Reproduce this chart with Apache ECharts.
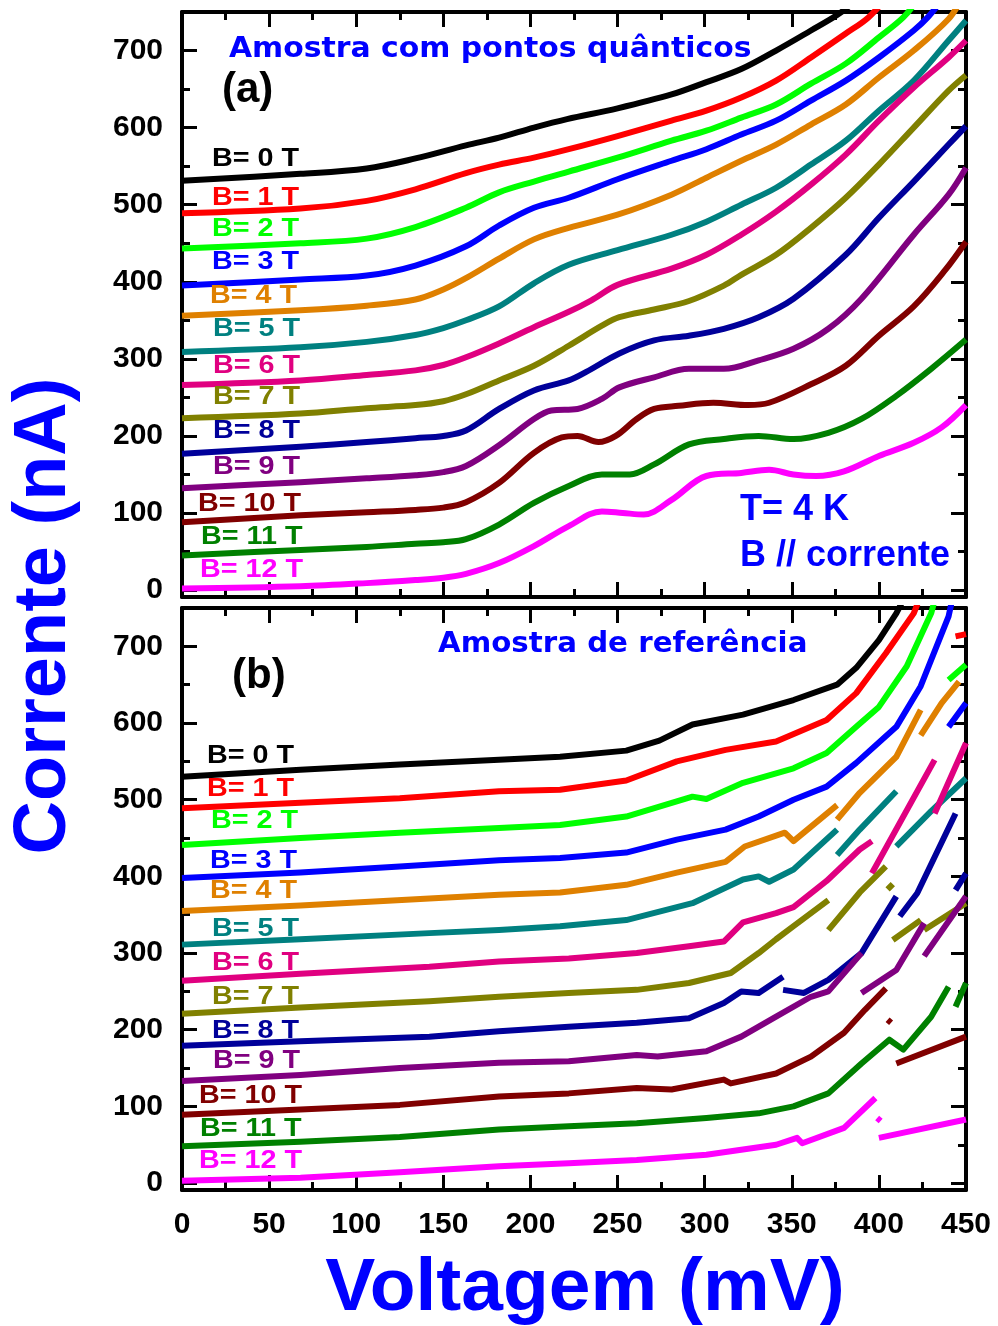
<!DOCTYPE html>
<html>
<head>
<meta charset="utf-8">
<script src="https://cdn.jsdelivr.net/npm/echarts@6/dist/echarts.min.js"></script>
<style>
  html, body { margin: 0; padding: 0; background: #ffffff; }
  #chart { width: 998px; height: 1326px; }
</style>
</head>
<body>
<div id="chart"></div>
<script>
// Magnetic field of each I-V curve (tesla)
const fields = [0, 1, 2, 3, 4, 5, 6, 7, 8, 9, 10, 11, 12];
const fieldColors = ['#000000', '#FF0000', '#00FF00', '#0000FF', '#DF8000', '#008080', '#E00080',
                     '#808000', '#00009A', '#800080', '#800000', '#008000', '#FF00FF'];

// Voltage axis ticks (mV) and current axis ticks (nA)
const voltageTicks = [0, 50, 100, 150, 200, 250, 300, 350, 400, 450];
const currentTicks = [0, 100, 200, 300, 400, 500, 600, 700];
const currentMinorTicks = [50, 150, 250, 350, 450, 550, 650];

// (a) sample with quantum dots: [voltage mV, current nA]
const qd0 = [[0,531],[68,540],[106,547],[134,560],[163,577],[182,587],[202,600],[221,611],[250,625],[281,643],[301,659],[321,676],[341,700],[361,726],[376,746],[390,770]];
const qd1 = [[0,489],[68,495],[106,505],[134,520],[163,541],[182,552],[202,561],[222,572],[250,589],[281,609],[301,622],[321,639],[341,661],[361,691],[381,722],[394,743],[405,770]];
const qd2 = [[0,443],[68,450],[106,456],[134,471],[163,496],[182,516],[202,530],[222,543],[250,561],[281,583],[301,596],[321,613],[341,630],[361,657],[381,683],[400,717],[414,743],[422,765]];
const qd3 = [[0,395],[68,403],[106,408],[134,421],[163,446],[182,473],[202,496],[222,509],[250,533],[281,557],[301,572],[321,591],[341,609],[361,635],[381,661],[400,691],[420,726],[428,743],[436,765]];
const qd4 = [[0,356],[68,363],[106,369],[134,377],[150,390],[164,406],[182,430],[202,455],[222,470],[250,487],[281,513],[301,535],[321,557],[341,578],[361,604],[381,630],[400,665],[420,700],[440,741],[447,765]];
const qd5 = [[0,309],[68,315],[106,322],[134,331],[150,340],[163,350],[182,368],[202,398],[222,422],[250,441],[281,461],[301,478],[321,500],[341,522],[361,552],[381,583],[400,622],[420,661],[440,713],[450,739]];
const qd6 = [[0,266],[68,272],[106,279],[134,285],[150,292],[163,302],[182,320],[202,341],[222,361],[235,376],[250,396],[281,417],[301,435],[321,461],[341,491],[361,526],[381,565],[400,609],[420,652],[440,691],[450,713]];
const qd7 = [[0,223],[68,229],[106,236],[134,240],[150,245],[163,254],[182,272],[202,291],[222,317],[241,343],[251,354],[271,364],[291,375],[311,395],[321,409],[341,435],[361,470],[381,509],[400,552],[420,600],[440,648],[450,668]];
const qd8 = [[0,177],[68,186],[106,192],[134,197],[150,200],[163,207],[182,235],[202,259],[222,272],[232,283],[251,307],[271,324],[291,330],[311,339],[331,354],[351,378],[381,435],[400,483],[420,530],[440,578],[450,602]];
const qd9 = [[0,132],[68,140],[106,145],[134,149],[150,153],[163,161],[182,188],[202,222],[212,233],[227,235],[241,248],[251,263],[271,276],[291,287],[311,287],[331,298],[351,313],[371,339],[390,378],[420,461],[440,513],[450,548]];
const qd10 = [[0,88],[68,97],[106,101],[134,104],[150,107],[163,114],[182,139],[202,178],[218,198],[227,200],[239,192],[249,200],[261,222],[271,235],[285,239],[305,243],[325,240],[337,243],[361,267],[381,291],[400,330],[420,368],[438,415],[450,452]];
const qd11 = [[0,45],[68,52],[106,56],[134,60],[150,62],[163,66],[182,85],[202,113],[222,135],[241,150],[257,150],[271,163],[291,189],[311,196],[331,200],[351,196],[371,204],[390,222],[410,252],[430,287],[450,325]];
const qd12 = [[0,2],[68,5],[106,9],[134,13],[150,16],[163,21],[182,35],[202,57],[222,83],[241,102],[253,100],[265,98],[281,117],[301,148],[321,152],[337,156],[351,150],[364,148],[380,154],[400,174],[420,191],[436,211],[450,240]];

// (b) reference sample: null marks a break in the recorded trace
const ref0 = [[0,530],[68,539],[125,546],[182,552],[217,556],[255,564],[274,577],[293,598],[322,611],[351,630],[376,650],[387,672],[400,708],[410,743],[415,765]];
const ref1 = [[0,489],[68,496],[125,502],[182,511],[217,513],[255,525],[284,550],[312,565],[341,576],[370,604],[387,639],[404,691],[420,743],[423,760],null,[444,713],[450,716]];
const ref2 = [[0,441],[68,450],[125,457],[182,463],[217,467],[255,478],[293,504],[301,501],[322,522],[351,541],[370,561],[387,595],[400,621],[416,674],[430,743],[432,760],null,[440,656],[450,676]];
const ref3 = [[0,398],[68,405],[125,413],[182,421],[217,424],[255,431],[284,448],[312,461],[331,478],[351,500],[370,517],[387,548],[410,595],[424,648],[440,739],[442,760],null,[440,595],[450,626]];
const ref4 = [[0,355],[68,362],[142,371],[182,376],[217,379],[255,389],[284,405],[312,419],[323,439],[346,457],[351,446],[376,493],null,[376,474],[389,509],[410,556],[424,617],null,[424,584],[436,626],[446,654]];
const ref5 = [[0,311],[68,318],[142,326],[182,330],[217,335],[255,343],[293,365],[322,396],[331,400],[337,393],[351,409],[376,461],null,[376,428],[389,461],[410,511],null,[410,439],[430,485],[450,528]];
const ref6 = [[0,264],[68,273],[142,282],[182,289],[222,293],[261,300],[291,309],[311,315],[322,340],[341,352],[351,360],[370,394],[389,435],[396,446],null,[396,404],[432,552],null,[432,482],[450,574]];
const ref7 = [[0,221],[68,229],[142,237],[182,243],[222,248],[261,252],[291,261],[315,274],[331,300],[341,318],[351,335],[371,369],null,[371,330],[389,379],[404,413],null,[405,383],[408,390],null,[408,317],[424,343],null,[426,330],[450,365]];
const ref8 = [[0,179],[68,185],[142,191],[182,198],[222,204],[261,209],[291,215],[311,235],[321,250],[331,248],[345,269],null,[345,252],[357,248],[371,265],[390,300],[410,374],null,[412,348],[422,378],[444,482],null,[444,382],[450,404]];
const ref9 = [[0,133],[68,141],[125,150],[182,157],[222,159],[261,167],[273,165],[301,172],[321,191],[341,217],[361,243],[371,250],[390,300],null,[390,248],[410,278],[426,339],null,[426,296],[450,374]];
const ref10 = [[0,89],[68,96],[125,102],[182,113],[222,117],[261,124],[281,122],[311,135],[315,130],[341,143],[361,165],[380,196],[392,226],[404,254],null,[405,213],[407,209],null,[410,156],[450,191]];
const ref11 = [[0,48],[68,54],[125,60],[182,70],[222,74],[261,78],[301,85],[331,91],[351,100],[371,117],[390,156],[406,187],[414,174],[430,217],[440,256],null,[444,230],[450,261]];
const ref12 = [[0,3],[68,7],[125,14],[182,22],[222,26],[261,30],[301,37],[341,50],[353,59],[356,52],[380,72],[398,111],null,[399,85],[401,81],null,[400,59],[450,83]];

const quantumDotCurves = [qd0, qd1, qd2, qd3, qd4, qd5, qd6, qd7, qd8, qd9, qd10, qd11, qd12];
const referenceCurves = [ref0, ref1, ref2, ref3, ref4, ref5, ref6, ref7, ref8, ref9, ref10, ref11, ref12];

// Placement of the field labels inside each panel (left x, vertical middle)
const labelPosA = [[212,159],[212,198],[212,229],[212,262],[210,296],[213,329],[213,366],[213,397],[213,431],[213,467],[198,504],[201,537],[200,570]];
const labelPosB = [[207,756],[207,789],[211,821],[210,861],[210,891],[212,929],[212,963],[212,997],[212,1031],[213,1061],[199,1096],[200,1129],[199,1161]];

const SANS = '"Liberation Sans", Arial, Helvetica, sans-serif';
const black = '#000000';
const blue = '#0000FF';

function asLineData(points) {
  return points.map(p => (p === null ? ['-', '-'] : p));
}

function xAxesFor(gridIndex, withLabels) {
  const base = {
    type: 'value', gridIndex: gridIndex, min: 0, max: 450, interval: 50,
    splitLine: { show: false },
    axisLine: { show: true, onZero: false, lineStyle: { color: black, width: 4 } },
    axisTick: { show: true, inside: true, length: 15, lineStyle: { color: black, width: 3 } },
    minorTick: { show: true, splitNumber: 2, length: 8, lineStyle: { color: black, width: 3 } }
  };
  return [
    Object.assign({}, base, {
      position: 'bottom',
      axisLabel: withLabels ? {
        show: true, color: black, fontFamily: SANS, fontWeight: 'bold', fontSize: 30, margin: 20,
        customValues: voltageTicks
      } : { show: false }
    }),
    Object.assign({}, base, { position: 'top', axisLabel: { show: false } })
  ];
}

function yAxesFor(gridIndex) {
  const base = { type: 'value', gridIndex: gridIndex, min: -9, max: 750, splitLine: { show: false } };
  const lineOn = { show: true, onZero: false, lineStyle: { color: black, width: 4 } };
  const lineOff = { show: false, onZero: false };
  const majorTick = { show: true, inside: true, length: 15, customValues: currentTicks, lineStyle: { color: black, width: 3 } };
  const minorTickStyle = { show: true, inside: true, length: 8, customValues: currentMinorTicks, lineStyle: { color: black, width: 3 } };
  return [
    Object.assign({}, base, {
      position: 'left', axisLine: lineOn, axisTick: majorTick,
      axisLabel: {
        show: true, color: black, fontFamily: SANS, fontWeight: 'bold', fontSize: 30, margin: 19,
        padding: [5, 0, 0, 0], customValues: currentTicks
      }
    }),
    Object.assign({}, base, { position: 'left', axisLine: lineOff, axisTick: minorTickStyle, axisLabel: { show: false } }),
    Object.assign({}, base, { position: 'right', axisLine: lineOn, axisTick: majorTick, axisLabel: { show: false } }),
    Object.assign({}, base, { position: 'right', axisLine: lineOff, axisTick: minorTickStyle, axisLabel: { show: false } })
  ];
}

function curveSeries(curves, xAxisIndex, yAxisIndex, smooth, prefix) {
  return curves.map((pts, i) => ({
    name: prefix + 'B= ' + fields[i] + ' T',
    type: 'line',
    xAxisIndex: xAxisIndex,
    yAxisIndex: yAxisIndex,
    data: asLineData(pts),
    showSymbol: false,
    symbol: 'none',
    smooth: smooth,
    connectNulls: false,
    clip: true,
    lineStyle: { color: fieldColors[i], width: 6, cap: 'butt', join: 'round' },
    itemStyle: { color: fieldColors[i] },
    z: 3
  }));
}

function textEl(text, x, y, font, fill, align, extra) {
  return Object.assign({
    type: 'text', x: x, y: y, z: 100,
    style: {
      text: text, font: font, fill: fill,
      align: align, textAlign: align,
      verticalAlign: 'middle', textVerticalAlign: 'middle'
    }
  }, extra || {});
}

const labelFont = 'bold 25px ' + SANS;
const graphics = [];
fields.forEach((b, i) => {
  graphics.push(textEl('B= ' + b + ' T', labelPosA[i][0], labelPosA[i][1], labelFont, fieldColors[i], 'left', { scaleX: 1.15 }));
  graphics.push(textEl('B= ' + b + ' T', labelPosB[i][0], labelPosB[i][1], labelFont, fieldColors[i], 'left', { scaleX: 1.15 }));
});
graphics.push(textEl('Amostra com pontos quânticos', 229, 49, 'bold 29px "DejaVu Sans", Verdana, sans-serif', blue, 'left', { scaleX: 1.03 }));
graphics.push(textEl('Amostra de referência', 438, 644, 'bold 29px "DejaVu Sans", Verdana, sans-serif', blue, 'left', { scaleX: 1.01 }));
graphics.push(textEl('(a)', 222, 90, 'bold 42px ' + SANS, black, 'left'));
graphics.push(textEl('(b)', 232, 676, 'bold 42px ' + SANS, black, 'left'));
graphics.push(textEl('T= 4 K', 740, 510, 'bold 36px ' + SANS, blue, 'left'));
graphics.push(textEl('B // corrente', 740, 556, 'bold 36px ' + SANS, blue, 'left'));
graphics.push(textEl('Corrente (nA)', 45, 616, 'bold 74px ' + SANS, blue, 'center', { rotation: Math.PI / 2 }));
graphics.push(textEl('Voltagem (mV)', 585, 1289, 'bold 75px ' + SANS, blue, 'center'));

const chart = echarts.init(document.getElementById('chart'), null, { renderer: 'canvas', width: 998, height: 1326 });

chart.setOption({
  backgroundColor: '#ffffff',
  animation: false,
  grid: [
    { left: 182, right: 32, top: 12, height: 585, containLabel: false },
    { left: 182, right: 32, top: 608, height: 582, containLabel: false }
  ],
  xAxis: xAxesFor(0, false).concat(xAxesFor(1, true)),
  yAxis: yAxesFor(0).concat(yAxesFor(1)),
  series: curveSeries(quantumDotCurves, 0, 0, 0.35, '(a) ').concat(curveSeries(referenceCurves, 2, 4, false, '(b) ')),
  graphic: { elements: graphics }
});
</script>
</body>
</html>
